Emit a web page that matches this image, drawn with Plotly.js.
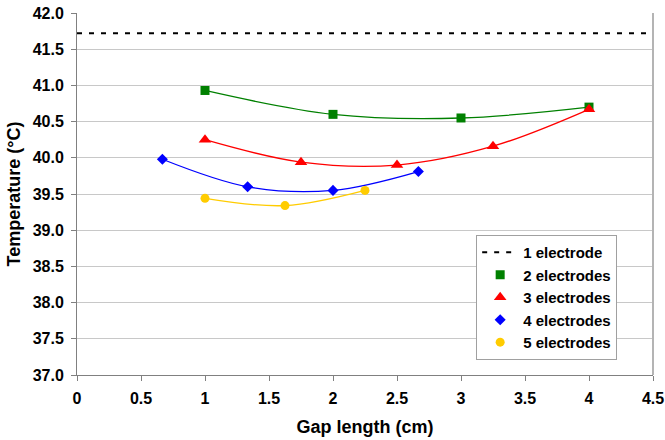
<!DOCTYPE html>
<html>
<head>
<meta charset="utf-8">
<script src="https://cdn.plot.ly/plotly-3.0.1.min.js"></script>
<style>html,body{margin:0;padding:0;background:#fff}#chart{width:665px;height:440px}</style>
</head>
<body>
<div id="chart"></div>
<script>
// ---- data ----
const xRange = [0, 4.5];
const oneElectrode = 41.72;

const gap2 = [1, 2, 3, 4];
const temp2 = [40.93, 40.60, 40.55, 40.70];

const gap3 = [1, 1.75, 2.5, 3.25, 4];
const temp3 = [40.25, 39.94, 39.90, 40.16, 40.67];

const gap4 = [0.667, 1.333, 2, 2.667];
const temp4 = [39.98, 39.60, 39.55, 39.81];

const gap5 = [1, 1.625, 2.25];
const temp5 = [39.44, 39.34, 39.55];

const seriesNames = ['1 electrode', '2 electrodes', '3 electrodes', '4 electrodes', '5 electrodes'];
const xTickVals = [0, 0.5, 1, 1.5, 2, 2.5, 3, 3.5, 4, 4.5];
const xTickText = ['0', '0.5', '1', '1.5', '2', '2.5', '3', '3.5', '4', '4.5'];

// ---- styles ----
const FONT = 'Liberation Sans, Arial, sans-serif';
const series = [
  {x: gap2, y: temp2, color: '#008000', symbol: 'square', size: 9, name: seriesNames[1]},
  {x: gap3, y: temp3, color: '#FF0000', symbol: 'triangle-up', size: 11, name: seriesNames[2]},
  {x: gap4, y: temp4, color: '#0000FF', symbol: 'diamond', size: 8.5, name: seriesNames[3]},
  {x: gap5, y: temp5, color: '#FFCC00', symbol: 'circle', size: 9, name: seriesNames[4]}
];

const traces = [{
  x: xRange, y: [oneElectrode, oneElectrode],
  mode: 'lines', name: seriesNames[0], legendgroup: 'g1',
  line: {color: '#000000', width: 2, dash: '5px,7px'},
  hoverinfo: 'skip'
}];
series.forEach(s => {
  traces.push({
    x: s.x, y: s.y, mode: 'lines', showlegend: false,
    line: {color: s.color, width: 1.3, shape: 'spline', smoothing: 1},
    hoverinfo: 'skip'
  });
});
series.forEach((s, i) => {
  traces.push({
    x: s.x, y: s.y, mode: 'markers', name: s.name, legendgroup: 'g' + (i + 2),
    marker: {color: s.color, symbol: s.symbol, size: s.size}
  });
});

const layout = {
  width: 665, height: 440,
  margin: {l: 77, r: 12, t: 13, b: 65},
  paper_bgcolor: '#ffffff', plot_bgcolor: '#ffffff',
  font: {family: FONT, color: '#000000'},
  showlegend: true,
  legend: {
    x: 0.693, y: 0.387, xanchor: 'left', yanchor: 'top',
    bgcolor: '#ffffff', bordercolor: '#a0a0a0', borderwidth: 1,
    font: {family: FONT, size: 15, weight: 'bold', color: '#000'},
    traceorder: 'grouped', tracegroupgap: 0, itemwidth: 36
  },
  xaxis: {
    range: xRange, tickvals: xTickVals, ticktext: xTickText,
    showgrid: false, zeroline: false,
    showline: true, linecolor: '#808080', linewidth: 1,
    ticks: 'outside', ticklen: 5, tickcolor: '#808080',
    tickfont: {family: FONT, size: 16, weight: 'bold'},
    ticklabelstandoff: 4,
    title: {text: 'Gap length (cm)', font: {family: FONT, size: 18, weight: 'bold'}, standoff: 14}
  },
  yaxis: {
    range: [37, 42], dtick: 0.5, tickformat: '.1f',
    showgrid: true, gridcolor: '#c8c8c8', gridwidth: 1, zeroline: false,
    showline: true, linecolor: '#808080', linewidth: 1,
    ticks: 'outside', ticklen: 5, tickcolor: '#808080',
    tickfont: {family: FONT, size: 16, weight: 'bold'},
    ticklabelstandoff: 4,
    title: {text: 'Temperature (°C)', font: {family: FONT, size: 18, weight: 'bold'}, standoff: 7}
  },
  shapes: [{
    type: 'line', xref: 'paper', yref: 'paper', x0: 1, x1: 1, y0: 0, y1: 1,
    line: {color: '#b4b4b4', width: 2}
  }]
};

Plotly.newPlot('chart', traces, layout, {displayModeBar: false, staticPlot: true});
</script>
</body>
</html>
